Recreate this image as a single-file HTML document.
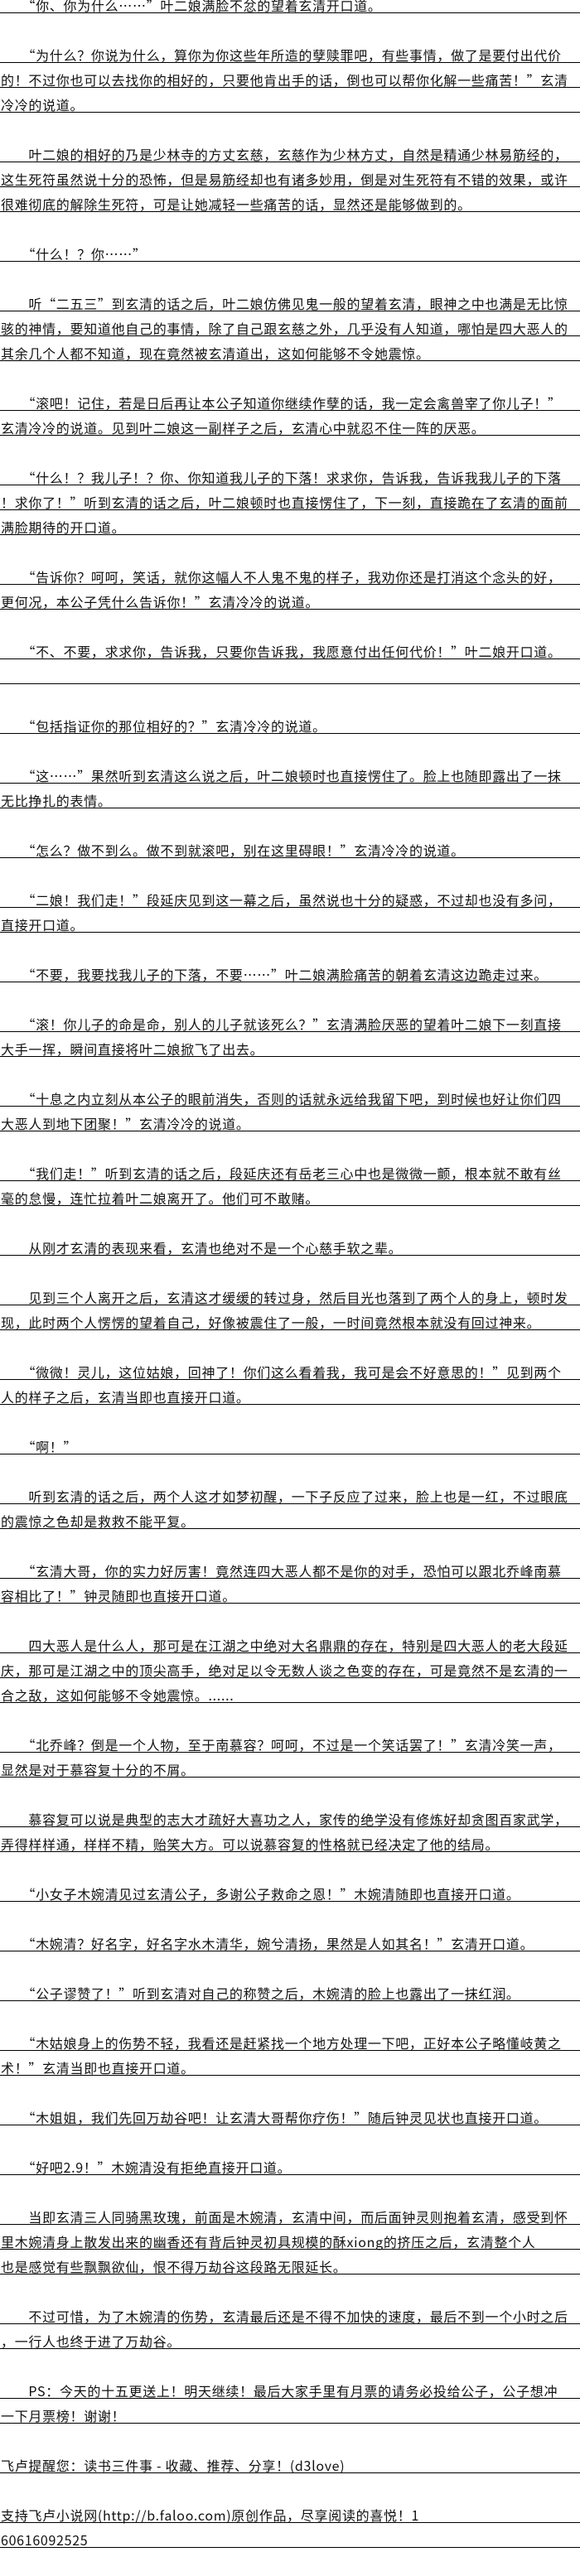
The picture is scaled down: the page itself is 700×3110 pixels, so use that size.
<!DOCTYPE html>
<html lang="zh-CN">
<head>
<meta charset="utf-8">
<style>
html,body{margin:0;padding:0;background:#fff;}
body{width:700px;height:3110px;overflow:hidden;position:relative;}
#w{position:absolute;left:0;top:-14px;width:700px;}
.r{height:29px;border-bottom:1px solid transparent;display:flex;align-items:flex-end;white-space:nowrap;
font-family:"WenQuanYi Zen Hei","Noto Sans CJK SC",sans-serif;font-size:16px;line-height:16px;letter-spacing:0.7px;color:#111;padding-left:1px;box-sizing:content-box;}
.r span{display:block;padding-bottom:1px;}
.u{border-bottom-color:#000;}
</style>
</head>
<body>
<div id="w">
<div class="r u"><span>　　“你、你为什么……”叶二娘满脸不忿的望着玄清开口道。</span></div>
<div class="r"></div>
<div class="r u"><span>　　“为什么？你说为什么，算你为你这些年所造的孽赎罪吧，有些事情，做了是要付出代价</span></div>
<div class="r u"><span>的！不过你也可以去找你的相好的，只要他肯出手的话，倒也可以帮你化解一些痛苦！”玄清</span></div>
<div class="r u"><span>冷冷的说道。</span></div>
<div class="r"></div>
<div class="r u"><span>　　叶二娘的相好的乃是少林寺的方丈玄慈，玄慈作为少林方丈，自然是精通少林易筋经的，</span></div>
<div class="r u"><span>这生死符虽然说十分的恐怖，但是易筋经却也有诸多妙用，倒是对生死符有不错的效果，或许</span></div>
<div class="r u"><span>很难彻底的解除生死符，可是让她减轻一些痛苦的话，显然还是能够做到的。</span></div>
<div class="r"></div>
<div class="r u"><span>　　“什么！？你……”</span></div>
<div class="r"></div>
<div class="r u"><span>　　听“二五三”到玄清的话之后，叶二娘仿佛见鬼一般的望着玄清，眼神之中也满是无比惊</span></div>
<div class="r u"><span>骇的神情，要知道他自己的事情，除了自己跟玄慈之外，几乎没有人知道，哪怕是四大恶人的</span></div>
<div class="r u"><span>其余几个人都不知道，现在竟然被玄清道出，这如何能够不令她震惊。</span></div>
<div class="r"></div>
<div class="r u"><span>　　“滚吧！记住，若是日后再让本公子知道你继续作孽的话，我一定会禽兽宰了你儿子！”</span></div>
<div class="r u"><span>玄清冷冷的说道。见到叶二娘这一副样子之后，玄清心中就忍不住一阵的厌恶。</span></div>
<div class="r"></div>
<div class="r u"><span>　　“什么！？我儿子！？你、你知道我儿子的下落！求求你，告诉我，告诉我我儿子的下落</span></div>
<div class="r u"><span>！求你了！”听到玄清的话之后，叶二娘顿时也直接愣住了，下一刻，直接跪在了玄清的面前</span></div>
<div class="r u"><span>满脸期待的开口道。</span></div>
<div class="r"></div>
<div class="r u"><span>　　“告诉你？呵呵，笑话，就你这幅人不人鬼不鬼的样子，我劝你还是打消这个念头的好，</span></div>
<div class="r u"><span>更何况，本公子凭什么告诉你！”玄清冷冷的说道。</span></div>
<div class="r"></div>
<div class="r u"><span>　　“不、不要，求求你，告诉我，只要你告诉我，我愿意付出任何代价！”叶二娘开口道。</span></div>
<div class="r u"></div>
<div class="r"></div>
<div class="r u"><span>　　“包括指证你的那位相好的？”玄清冷冷的说道。</span></div>
<div class="r"></div>
<div class="r u"><span>　　“这……”果然听到玄清这么说之后，叶二娘顿时也直接愣住了。脸上也随即露出了一抹</span></div>
<div class="r u"><span>无比挣扎的表情。</span></div>
<div class="r"></div>
<div class="r u"><span>　　“怎么？做不到么。做不到就滚吧，别在这里碍眼！”玄清冷冷的说道。</span></div>
<div class="r"></div>
<div class="r u"><span>　　“二娘！我们走！”段延庆见到这一幕之后，虽然说也十分的疑惑，不过却也没有多问，</span></div>
<div class="r u"><span>直接开口道。</span></div>
<div class="r"></div>
<div class="r u"><span>　　“不要，我要找我儿子的下落，不要……”叶二娘满脸痛苦的朝着玄清这边跪走过来。</span></div>
<div class="r"></div>
<div class="r u"><span>　　“滚！你儿子的命是命，别人的儿子就该死么？”玄清满脸厌恶的望着叶二娘下一刻直接</span></div>
<div class="r u"><span>大手一挥，瞬间直接将叶二娘掀飞了出去。</span></div>
<div class="r"></div>
<div class="r u"><span>　　“十息之内立刻从本公子的眼前消失，否则的话就永远给我留下吧，到时候也好让你们四</span></div>
<div class="r u"><span>大恶人到地下团聚！”玄清冷冷的说道。</span></div>
<div class="r"></div>
<div class="r u"><span>　　“我们走！”听到玄清的话之后，段延庆还有岳老三心中也是微微一颤，根本就不敢有丝</span></div>
<div class="r u"><span>毫的怠慢，连忙拉着叶二娘离开了。他们可不敢赌。</span></div>
<div class="r"></div>
<div class="r u"><span>　　从刚才玄清的表现来看，玄清也绝对不是一个心慈手软之辈。</span></div>
<div class="r"></div>
<div class="r u"><span>　　见到三个人离开之后，玄清这才缓缓的转过身，然后目光也落到了两个人的身上，顿时发</span></div>
<div class="r u"><span>现，此时两个人愣愣的望着自己，好像被震住了一般，一时间竟然根本就没有回过神来。</span></div>
<div class="r"></div>
<div class="r u"><span>　　“微微！灵儿，这位姑娘，回神了！你们这么看着我，我可是会不好意思的！”见到两个</span></div>
<div class="r u"><span>人的样子之后，玄清当即也直接开口道。</span></div>
<div class="r"></div>
<div class="r u"><span>　　“啊！”</span></div>
<div class="r"></div>
<div class="r u"><span>　　听到玄清的话之后，两个人这才如梦初醒，一下子反应了过来，脸上也是一红，不过眼底</span></div>
<div class="r u"><span>的震惊之色却是救救不能平复。</span></div>
<div class="r"></div>
<div class="r u"><span>　　“玄清大哥，你的实力好厉害！竟然连四大恶人都不是你的对手，恐怕可以跟北乔峰南慕</span></div>
<div class="r u"><span>容相比了！”钟灵随即也直接开口道。</span></div>
<div class="r"></div>
<div class="r u"><span>　　四大恶人是什么人，那可是在江湖之中绝对大名鼎鼎的存在，特别是四大恶人的老大段延</span></div>
<div class="r u"><span>庆，那可是江湖之中的顶尖高手，绝对足以令无数人谈之色变的存在，可是竟然不是玄清的一</span></div>
<div class="r u"><span>合之敌，这如何能够不令她震惊。......</span></div>
<div class="r"></div>
<div class="r u"><span>　　“北乔峰？倒是一个人物，至于南慕容？呵呵，不过是一个笑话罢了！”玄清冷笑一声，</span></div>
<div class="r u"><span>显然是对于慕容复十分的不屑。</span></div>
<div class="r"></div>
<div class="r u"><span>　　慕容复可以说是典型的志大才疏好大喜功之人，家传的绝学没有修炼好却贪图百家武学，</span></div>
<div class="r u"><span>弄得样样通，样样不精，贻笑大方。可以说慕容复的性格就已经决定了他的结局。</span></div>
<div class="r"></div>
<div class="r u"><span>　　“小女子木婉清见过玄清公子，多谢公子救命之恩！”木婉清随即也直接开口道。</span></div>
<div class="r"></div>
<div class="r u"><span>　　“木婉清？好名字，好名字水木清华，婉兮清扬，果然是人如其名！”玄清开口道。</span></div>
<div class="r"></div>
<div class="r u"><span>　　“公子谬赞了！”听到玄清对自己的称赞之后，木婉清的脸上也露出了一抹红润。</span></div>
<div class="r"></div>
<div class="r u"><span>　　“木姑娘身上的伤势不轻，我看还是赶紧找一个地方处理一下吧，正好本公子略懂岐黄之</span></div>
<div class="r u"><span>术！”玄清当即也直接开口道。</span></div>
<div class="r"></div>
<div class="r u"><span>　　“木姐姐，我们先回万劫谷吧！让玄清大哥帮你疗伤！”随后钟灵见状也直接开口道。</span></div>
<div class="r"></div>
<div class="r u"><span>　　“好吧2.9！”木婉清没有拒绝直接开口道。</span></div>
<div class="r"></div>
<div class="r u"><span>　　当即玄清三人同骑黑玫瑰，前面是木婉清，玄清中间，而后面钟灵则抱着玄清，感受到怀</span></div>
<div class="r u"><span>里木婉清身上散发出来的幽香还有背后钟灵初具规模的酥xiong的挤压之后，玄清整个人</span></div>
<div class="r u"><span>也是感觉有些飘飘欲仙，恨不得万劫谷这段路无限延长。</span></div>
<div class="r"></div>
<div class="r u"><span>　　不过可惜，为了木婉清的伤势，玄清最后还是不得不加快的速度，最后不到一个小时之后</span></div>
<div class="r u"><span>，一行人也终于进了万劫谷。</span></div>
<div class="r"></div>
<div class="r u"><span>　　PS：今天的十五更送上！明天继续！最后大家手里有月票的请务必投给公子，公子想冲</span></div>
<div class="r u"><span>一下月票榜！谢谢！</span></div>
<div class="r"></div>
<div class="r u"><span>飞卢提醒您：读书三件事 - 收藏、推荐、分享！(d3love)</span></div>
<div class="r"></div>
<div class="r u"><span>支持飞卢小说网(http://b.faloo.com)原创作品，尽享阅读的喜悦！1</span></div>
<div class="r u"><span>60616092525</span></div>
</div>
</body>
</html>
